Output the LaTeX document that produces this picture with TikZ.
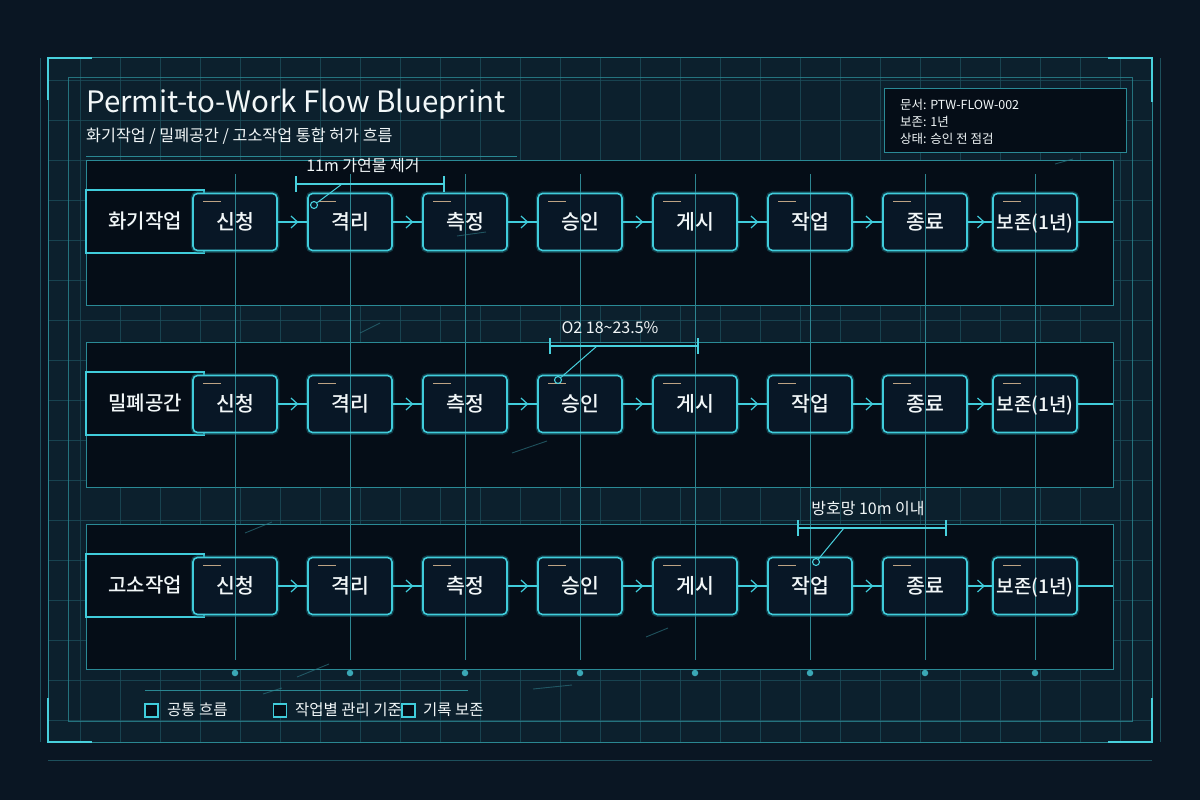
\documentclass[tikz,border=0pt]{standalone}
\usepackage{fontspec}
\setmainfont{Noto Sans CJK KR}
\newfontfamily\medfont{Noto Sans CJK KR Medium}
\usetikzlibrary{arrows.meta,decorations.markings}
\definecolor{bgcol}{HTML}{0A1623}
\definecolor{framefill}{HTML}{0C202D}
\definecolor{gridcol}{HTML}{1D505C}
\definecolor{framecol}{HTML}{2A8792}
\definecolor{brightcyan}{HTML}{48D0DD}
\definecolor{lanefill}{HTML}{050D17}
\definecolor{lanecol}{HTML}{2A8A96}
\definecolor{boxfill}{HTML}{081726}
\definecolor{boxcol}{HTML}{40CCDB}
\definecolor{glowcol}{HTML}{1E6E7A}
\definecolor{vlinecol}{HTML}{2D8591}
\definecolor{tancol}{HTML}{BDA383}
\definecolor{textcol}{HTML}{F2F7F8}
\definecolor{dotcol}{HTML}{3AA7B5}
\definecolor{streakcol}{HTML}{2A6E7A}
\begin{document}
\begin{tikzpicture}[x=1pt,y=-1pt,
  lane/.style={draw=lanecol, line width=0.9pt, fill=lanefill, minimum width=1027pt, minimum height=145pt, inner sep=0pt, outer sep=0pt, anchor=north west},
  labelbox/.style={draw=boxcol, line width=1.1pt, fill=lanefill, minimum width=118pt, minimum height=63pt, inner sep=0pt, outer sep=0pt, text=textcol, font=\medfont\fontsize{20}{24}\selectfont, text depth=0pt, text height=14pt},
  vline/.style={draw=vlinecol, line width=1pt},
  stepbox/.style={draw=boxcol, line width=1.6pt, fill=boxfill, rounded corners=4.5pt, minimum width=84pt, minimum height=57pt, inner sep=0pt, text=textcol, font=\medfont\fontsize{20.5}{24}\selectfont, text depth=0pt, text height=14pt,
    preaction={draw=glowcol, line width=4.5pt, draw opacity=0.5},
    path picture={\draw[vline] (path picture bounding box.north) -- (path picture bounding box.south);}},
  tanmark/.style={draw=tancol, line width=1.5pt},
  flow/.style={draw=boxcol, line width=1.1pt, postaction={decorate}, decoration={markings, mark=at position 0.7 with {\arrow{Straight Barb[length=6.5pt,width=12pt,line width=1.2pt]}}}},
  flowplain/.style={draw=boxcol, line width=1.1pt},
  annot/.style={text=textcol, font=\fontsize{16}{19}\selectfont, inner sep=0pt},
  bracket/.style={draw=brightcyan, line width=1.2pt},
  ring/.style={circle, draw=brightcyan, line width=1.1pt, minimum size=7pt, inner sep=0pt, fill=boxfill},
  dotn/.style={circle, fill=dotcol, minimum size=6.5pt, inner sep=0pt},
  gridline/.style={draw=gridcol, line width=0.7pt, opacity=0.75},
  streak/.style={draw=streakcol, line width=0.9pt, opacity=0.7},
  infotext/.style={text=textcol, font=\fontsize{12.5}{15}\selectfont, inner sep=0pt, anchor=west},
  legsq/.style={draw=boxcol, line width=1.2pt, fill=lanefill, minimum size=13pt, inner sep=0pt},
  legtext/.style={text=textcol, font=\fontsize{15.5}{18}\selectfont, inner sep=0pt, anchor=west}
]
\useasboundingbox (0,0) rectangle (1200,800);
% background
\fill[bgcol] (0,0) rectangle (1200,800);
\fill[framefill] (48,58) rectangle (1152,742);
% grid
\begin{scope}
\clip (48,58) rectangle (1152,742);
\foreach \gx in {80,120,...,1120} \draw[gridline] (\gx,58) -- (\gx,742);
\foreach \gy in {80,120,...,720} \draw[gridline] (48,\gy) -- (1152,\gy);
\end{scope}
% outer faint lines
\draw[draw=gridcol, line width=0.8pt] (40,58) -- (40,742);
\draw[draw=gridcol, line width=0.8pt] (1160,58) -- (1160,742);
\draw[draw=gridcol, line width=0.8pt] (48,760) -- (1152,760);
% frames
\draw[draw=framecol, line width=1pt] (48,58) rectangle (1152,742);
\draw[draw=framecol, line width=1pt, opacity=0.8] (68,78) rectangle (1132,721);
% corner brackets
\draw[draw=brightcyan, line width=2.4pt] (48,100) -- (48,58) -- (92,58);
\draw[draw=brightcyan, line width=2.4pt] (1108,58) -- (1152,58) -- (1152,102);
\draw[draw=brightcyan, line width=2.4pt] (48,698) -- (48,742) -- (92,742);
\draw[draw=brightcyan, line width=2.4pt] (1108,742) -- (1152,742) -- (1152,698);
% title
\node[anchor=base west, inner sep=0pt, text=textcol, font=\fontsize{29.5}{34}\selectfont] (title) at (86,112) {Permit-to-Work Flow Blueprint};
\node[anchor=west, inner sep=0pt, text=textcol, font=\fontsize{16.2}{19}\selectfont] (subtitle) at (86,136) {화기작업 / 밀폐공간 / 고소작업 통합 허가 흐름};
\draw[draw=framecol, line width=1pt] (86,156) -- (517,156);
% info box
\node[draw=lanecol, line width=1pt, fill=lanefill, anchor=north west, minimum width=242pt, minimum height=64pt, inner sep=0pt] (info) at (884,88) {};
\node[infotext] (info1) at (900,105) {문서: PTW-FLOW-002};
\node[infotext] (info2) at (900,122) {보존: 1년};
\node[infotext] (info3) at (900,139) {상태: 승인 전 점검};
% lanes
\foreach \r/\T/\nm in {1/160/화기작업, 2/342/밀폐공간, 3/524/고소작업} {
  \node[lane] (L\r) at (86,\T) {};
  \node[labelbox] (lab\r) at (145,\T+61.5) {\nm};
}
% streaks
\draw[streak] (1055,164) -- (1073,159);
\draw[streak] (512,453) -- (547,441);
\draw[streak] (245,533) -- (272,522);
\draw[streak] (646,637) -- (668,628);
\draw[streak] (297,677) -- (329,664);
\draw[streak] (263,694) -- (282,688);
\draw[streak] (533,689) -- (572,685);
\draw[streak] (360,333) -- (380,323);
% vertical guide lines and dots
\foreach \x [count=\k] in {235,350,465,580,695,810,925,1035} {
  \draw[vline] (\x,174) -- (\x,660);
  \node[dotn] (d\k) at (\x,673) {};
}
% step boxes
\foreach \r/\T in {1/160, 2/342, 3/524} {
  \foreach \i/\x/\s in {1/235/신청, 2/350/격리, 3/465/측정, 4/580/승인, 5/695/게시, 6/810/작업, 7/925/종료, 8/1035/{\fontsize{19}{22}\selectfont 보존(1년)}} {
    \node[stepbox] (b\r\i) at (\x,\T+62) {\s};
    \draw[tanmark] ([xshift=11pt,yshift=-9pt]b\r\i.north west) -- ++(18,0);
  }
  \foreach \i in {1,...,7} {
    \pgfmathtruncatemacro{\j}{\i+1}
    \draw[flow] (b\r\i.east) -- (b\r\j.west);
  }
  \draw[flowplain] (b\r8.east) -- (b\r8.east -| L\r.east);
}
\draw[streak] (457,236) -- (486,232);
% annotations
\node[annot] (a1) at (363,166) {11m 가연물 제거};
\draw[bracket] (296,184) -- (444,184);
\draw[bracket] (296,176) -- (296,192);
\draw[bracket] (444,176) -- (444,192);
\coordinate (k1) at (342,184);
\node[ring] (r1) at (314,205) {};
\draw[bracket, line width=1pt] (k1) -- (r1);

\node[annot] (a2) at (610,328) {O2 18\string~23.5\%};
\draw[bracket] (550,346) -- (698,346);
\draw[bracket] (550,338) -- (550,354);
\draw[bracket] (698,338) -- (698,354);
\coordinate (k2) at (597,346);
\node[ring] (r2) at (558,380) {};
\draw[bracket, line width=1pt] (k2) -- (r2);

\node[annot] (a3) at (868,509) {방호망 10m 이내};
\draw[bracket] (798,528) -- (946,528);
\draw[bracket] (798,520) -- (798,536);
\draw[bracket] (946,520) -- (946,536);
\coordinate (k3) at (844,528);
\node[ring] (r3) at (816,562) {};
\draw[bracket, line width=1pt] (k3) -- (r3);
% legend
\draw[draw=framecol, line width=1pt] (145,690) -- (468,690);
\node[legsq] (s1) at (151.5,710.5) {};
\node[legtext] (t1) at (167,710) {공통 흐름};
\node[legsq] (s2) at (280,710.5) {};
\node[legtext] (t2) at (295,710) {작업별 관리 기준};
\node[legsq] (s3) at (408.5,710.5) {};
\node[legtext] (t3) at (423,710) {기록 보존};
\end{tikzpicture}
\end{document}
